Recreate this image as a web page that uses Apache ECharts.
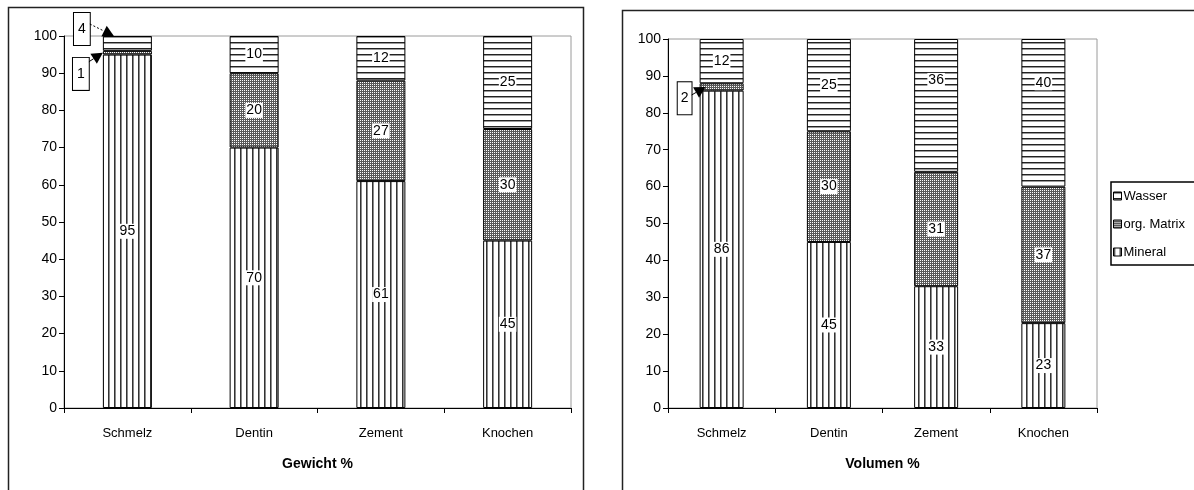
<!DOCTYPE html>
<html>
<head>
<meta charset="utf-8">
<script src="https://cdn.jsdelivr.net/npm/echarts@6/dist/echarts.min.js"></script>
<style>
  html, body { margin: 0; padding: 0; background: #fff; }
  #c { width: 1194px; height: 490px; }
</style>
</head>
<body>
<div id="c"></div>
<script>
// Zusammensetzung der Zahnhartgewebe und des Knochens
const categories = ['Schmelz', 'Dentin', 'Zement', 'Knochen'];
const weightMineral = [95, 70, 61, 45];
const weightMatrix  = [1, 20, 27, 30];
const weightWater   = [4, 10, 12, 25];
const volumeMineral = [86, 45, 33, 23];
const volumeMatrix  = [2, 30, 31, 37];
const volumeWater   = [12, 25, 36, 40];
const legendOrder   = ['Wasser', 'org. Matrix', 'Mineral'];

const FONT = 'Arial, "Liberation Sans", sans-serif';

// hatch fills
function pattern(w, h, draw) {
  const c = document.createElement('canvas');
  c.width = w; c.height = h;
  const ctx = c.getContext('2d');
  ctx.fillStyle = '#fff';
  ctx.fillRect(0, 0, w, h);
  draw(ctx);
  return { image: c, repeat: 'repeat' };
}
const fillMineral = pattern(6, 6, ctx => {
  ctx.fillStyle = '#333'; ctx.fillRect(0, 0, 1, 6);
  ctx.fillStyle = '#8a8a8a'; ctx.fillRect(1, 0, 1, 6);
});
const fillWater = pattern(6, 6, ctx => {
  ctx.fillStyle = '#222'; ctx.fillRect(0, 0, 6, 1);
  ctx.fillStyle = '#999'; ctx.fillRect(0, 1, 6, 1);
});
const fillMatrix = pattern(2, 2, ctx => {
  ctx.fillStyle = '#5a5a5a';
  ctx.fillRect(1, 0, 1, 1); ctx.fillRect(0, 1, 1, 1); ctx.fillRect(1, 1, 1, 1);
});

const innerLabel = {
  show: true, position: 'inside', color: '#000', fontFamily: FONT, fontSize: 14,
  backgroundColor: '#fff', padding: [1, 1, 0, 1]
};
const calloutLabel = (pos, pad) => ({
  position: pos, align: 'center', verticalAlign: 'middle',
  backgroundColor: '#fff', borderColor: '#000', borderWidth: 1, padding: pad
});

function items(values, overrides) {
  return values.map((v, i) => overrides && overrides[i] ? { value: v, label: overrides[i] } : v);
}

const LEFT_BAR = 49, RIGHT_BAR = 44;

function bar(name, data, idx, stack, fill, width) {
  return {
    name, type: 'bar', stack, xAxisIndex: idx, yAxisIndex: idx, barWidth: width,
    data,
    itemStyle: { color: fill, borderColor: '#000', borderWidth: 1 },
    label: innerLabel,
    emphasis: { disabled: true }
  };
}

const axisLineStyle = { show: true, lineStyle: { color: '#000', width: 1 } };
const axisTickStyle = { show: true, length: 5, inside: false, lineStyle: { color: '#000' } };

function xAxis(idx, title) {
  return {
    type: 'category', gridIndex: idx, data: categories,
    axisLine: axisLineStyle, axisTick: axisTickStyle,
    axisLabel: { color: '#000', fontFamily: FONT, fontSize: 13, margin: 19 },
    name: title, nameLocation: 'middle', nameGap: 49,
    nameTextStyle: { color: '#000', fontFamily: FONT, fontSize: 14, fontWeight: 'bold' }
  };
}
function yAxis(idx) {
  return {
    type: 'value', gridIndex: idx, min: 0, max: 100, interval: 10,
    axisLine: axisLineStyle, axisTick: axisTickStyle,
    axisLabel: { color: '#000', fontFamily: FONT, fontSize: 14, margin: 7 },
    splitLine: { show: false }
  };
}

const option = {
  animation: false,
  backgroundColor: '#fff',
  grid: [
    { left: 64, top: 36, width: 507, height: 372, show: true, borderColor: '#9a9a9a', borderWidth: 1 },
    { left: 668, top: 39, width: 429, height: 369, show: true, borderColor: '#9a9a9a', borderWidth: 1 }
  ],
  xAxis: [xAxis(0, 'Gewicht %'), xAxis(1, 'Volumen %')],
  yAxis: [yAxis(0), yAxis(1)],
  legend: {
    orient: 'vertical', left: 1113, top: 189, padding: 0,
    data: legendOrder, itemWidth: 8, itemHeight: 8, itemGap: 14,
    icon: 'rect', selectedMode: false,
    textStyle: { color: '#000', fontFamily: FONT, fontSize: 13, lineHeight: 14, padding: [0, 0, 0, -3] },
    itemStyle: { borderColor: '#000', borderWidth: 1 }
  },
  series: [
    bar('Mineral', items(weightMineral), 0, 'g', fillMineral, LEFT_BAR),
    bar('org. Matrix', items(weightMatrix, { 0: calloutLabel([-22, 23], [9, 4]) }), 0, 'g', fillMatrix, LEFT_BAR),
    bar('Wasser', items(weightWater, { 0: calloutLabel([-21, -7], [9, 4]) }), 0, 'g', fillWater, LEFT_BAR),
    bar('Mineral', items(volumeMineral), 1, 'v', fillMineral, RIGHT_BAR),
    bar('org. Matrix', items(volumeMatrix, { 0: calloutLabel([-15, 15], [9, 3]) }), 1, 'v', fillMatrix, RIGHT_BAR),
    bar('Wasser', items(volumeWater, { 2: { offset: [0, -25] }, 3: { offset: [0, -30] } }), 1, 'v', fillWater, RIGHT_BAR)
  ]
};

const chart = echarts.init(document.getElementById('c'), null, { renderer: 'canvas' });
chart.setOption(option);

// callout arrows from the label boxes to the thin segments
function arrow(tail, tip, dashed) {
  const dx = tip[0] - tail[0], dy = tip[1] - tail[1];
  const len = Math.sqrt(dx * dx + dy * dy);
  const ux = dx / len, uy = dy / len;
  const head = 11, half = 6;
  const base = [tip[0] - ux * head, tip[1] - uy * head];
  return [
    { type: 'line', silent: true, z: 100,
      shape: { x1: tail[0], y1: tail[1], x2: base[0], y2: base[1] },
      style: { stroke: '#000', lineWidth: 1, lineDash: dashed ? [2, 2] : null } },
    { type: 'polygon', silent: true, z: 100,
      shape: { points: [tip, [base[0] - uy * half, base[1] + ux * half], [base[0] + uy * half, base[1] - ux * half]] },
      style: { fill: '#000' } }
  ];
}
const at = (g, c, v) => chart.convertToPixel({ gridIndex: g }, [c, v]);

const p4 = at(0, 0, 100), l4 = p4[0] - LEFT_BAR / 2;
const p1 = at(0, 0, 95.5), l1 = p1[0] - LEFT_BAR / 2;
const p2 = at(1, 0, 87), l2 = p2[0] - RIGHT_BAR / 2;

const frames = [
  { type: 'rect', silent: true, z: 0, shape: { x: 8.5, y: 7.5, width: 575, height: 520 },
    style: { fill: null, stroke: '#222', lineWidth: 1.5 } },
  { type: 'rect', silent: true, z: 0, shape: { x: 622.5, y: 10.5, width: 620, height: 520 },
    style: { fill: null, stroke: '#222', lineWidth: 1.5 } },
  { type: 'rect', silent: true, z: 0, shape: { x: 1111, y: 182, width: 120, height: 83 },
    style: { fill: '#fff', stroke: '#000', lineWidth: 1.5 } }
];

chart.setOption({
  graphic: frames.concat(
    arrow([l4 - 13, p4[1] - 12], [l4 + 11, p4[1]], true),
    arrow([l1 - 14, p1[1] + 9], [l1, p1[1]], false),
    arrow([l2 - 8, p2[1] + 8], [l2 + 6, p2[1]], false)
  )
});
</script>
</body>
</html>
